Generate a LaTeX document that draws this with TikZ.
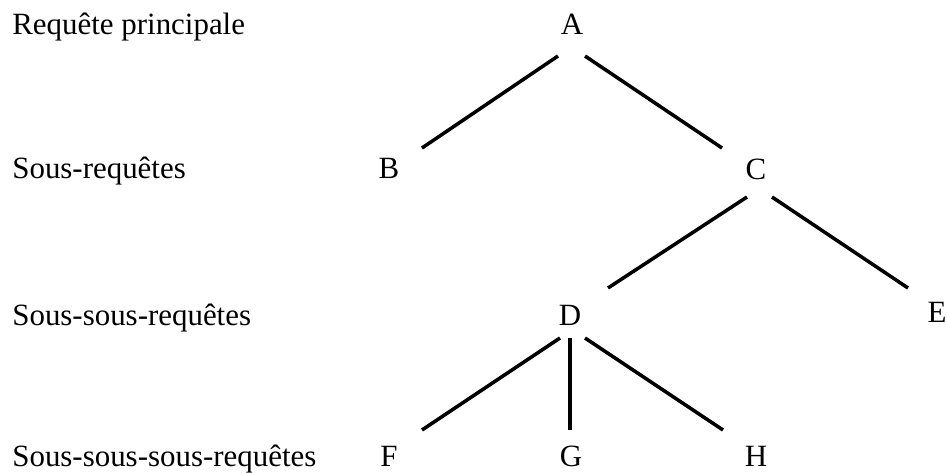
\documentclass[tikz,border=0pt]{standalone}
\usepackage{fontspec}
\setmainfont{Liberation Serif}
\usetikzlibrary{positioning}

\begin{document}
\begin{tikzpicture}[
  x=0.02cm, y=-0.02cm,
  niveau/.style={anchor=base west, inner sep=0pt, font=\fontsize{17.6}{20}\selectfont},
  lettre/.style={inner sep=0pt, font=\fontsize{17.6}{20}\selectfont},
  branche/.style={line width=2pt}
]
\useasboundingbox (0,0) rectangle (947,473);

% Levels
\node[niveau] (n0) at (12,35)  {Requête principale};
\node[niveau] (n1) at (12,178) {Sous-requêtes};
\node[niveau] (n2) at (12,325) {Sous-sous-requêtes};
\node[niveau] (n3) at (12,466) {Sous-sous-sous-requêtes};

% Tree
\node[lettre] (A) at (572,24)  {A};
\node[lettre] (B) at (389,168) {B};
\node[lettre] (C) at (756,169) {C};
\node[lettre] (D) at (570,315) {D};
\node[lettre] (E) at (937,312) {E};
\node[lettre] (F) at (389,456) {F};
\node[lettre] (G) at (571,456) {G};
\node[lettre] (H) at (756,456) {H};

\draw[branche] ([shift={(-14,32)}]A.center) -- ([shift={(33,-20)}]B.center);
\draw[branche] ([shift={(13,32)}]A.center)  -- ([shift={(-34,-21)}]C.center);
\draw[branche] ([shift={(-9,28)}]C.center)  -- ([shift={(38,-27)}]D.center);
\draw[branche] ([shift={(16,28)}]C.center)  -- ([shift={(-29,-24)}]E.center);
\draw[branche] ([shift={(-10,23)}]D.center) -- ([shift={(33,-26)}]F.center);
\draw[branche] ([shift={(0,23)}]D.center)   -- ([shift={(-1,-26)}]G.center);
\draw[branche] ([shift={(15,23)}]D.center)  -- ([shift={(-33,-26)}]H.center);
\end{tikzpicture}
\end{document}
